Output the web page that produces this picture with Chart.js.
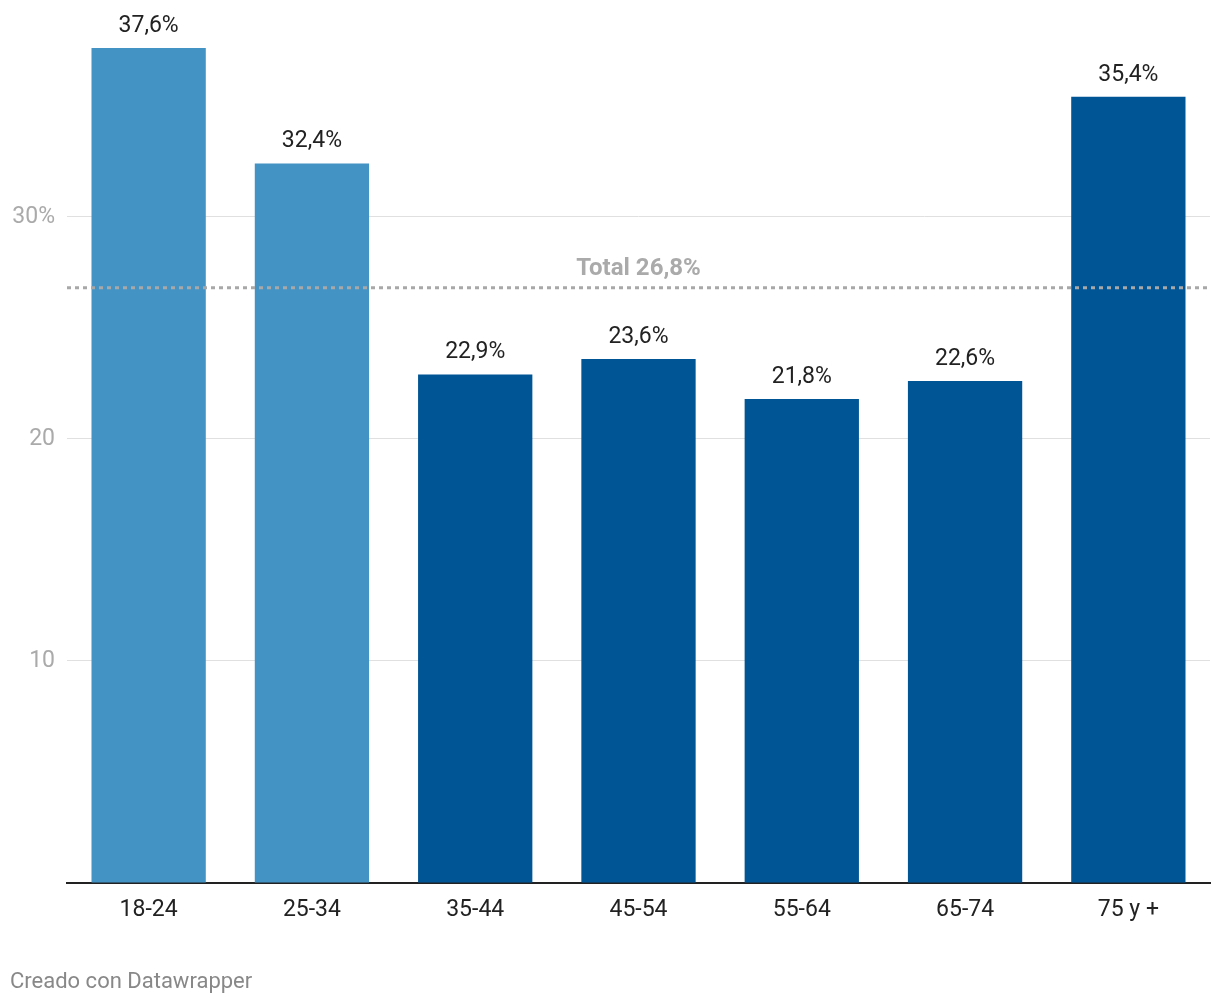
<!DOCTYPE html>
<html>
<head>
<meta charset="utf-8">
<script src="https://cdn.jsdelivr.net/npm/chart.js@4/dist/chart.umd.min.js"></script>
<style>
  html, body { margin: 0; padding: 0; background: #fff; }
  #wrap { position: relative; width: 1220px; height: 1004px; }
  #footer {
    position: absolute; left: 10px; top: 968px;
    font-family: Roboto, sans-serif; font-size: 22px; color: #888;
  }
</style>
</head>
<body>
<div id="wrap">
  <canvas id="chart" width="1220" height="1004"></canvas>
  <div id="footer">Creado con Datawrapper</div>
</div>
<script>
// Datos: porcentaje por grupo de edad
const categories = ['18-24', '25-34', '35-44', '45-54', '55-64', '65-74', '75 y +'];
const values = [37.6, 32.4, 22.9, 23.6, 21.8, 22.6, 35.4];
const barColors = ['#4394c4', '#4394c4', '#005595', '#005595', '#005595', '#005595', '#005595'];
const totalValue = 26.8;
const totalLabel = 'Total 26,8%';

const FONT = 'Roboto, sans-serif';

// Etiquetas de valor encima de cada barra
const valueLabels = {
  id: 'valueLabels',
  afterDatasetsDraw(chart) {
    const ctx = chart.ctx;
    const meta = chart.getDatasetMeta(0);
    ctx.save();
    ctx.font = '23px ' + FONT;
    ctx.fillStyle = '#222';
    ctx.textAlign = 'center';
    ctx.textBaseline = 'middle';
    meta.data.forEach((bar, i) => {
      ctx.fillText(values[i].toFixed(1).replace('.', ',') + '%', bar.x, bar.y - 22);
    });
    ctx.restore();
  }
};

// Línea punteada del total
const totalLine = {
  id: 'totalLine',
  afterDatasetsDraw(chart) {
    const { ctx, chartArea, scales } = chart;
    const y = scales.y.getPixelForValue(totalValue);
    ctx.save();
    ctx.strokeStyle = '#a8a8a8';
    ctx.lineWidth = 3;
    ctx.setLineDash([4, 4]);
    ctx.beginPath();
    ctx.moveTo(chartArea.left, y);
    ctx.lineTo(chartArea.right, y);
    ctx.stroke();
    ctx.setLineDash([]);
    ctx.font = 'bold 24px ' + FONT;
    ctx.fillStyle = '#aaa';
    ctx.textAlign = 'center';
    ctx.textBaseline = 'middle';
    ctx.fillText(totalLabel, (chartArea.left + chartArea.right) / 2, y - 19);
    ctx.restore();
  }
};

new Chart(document.getElementById('chart'), {
  type: 'bar',
  data: {
    labels: categories,
    datasets: [{
      data: values,
      backgroundColor: barColors,
      barPercentage: 0.7,
      categoryPercentage: 1.0,
    }]
  },
  options: {
    responsive: false,
    animation: false,
    layout: { padding: { top: 48, right: 10, left: 0, bottom: 61 } },
    plugins: {
      legend: { display: false },
      tooltip: { enabled: false },
    },
    scales: {
      x: {
        grid: { display: false },
        border: { display: true, color: '#222', width: 2 },
        ticks: { color: '#222', font: { family: FONT, size: 23 }, padding: 5 },
        afterFit(scale) { scale.height = 60; },
      },
      y: {
        min: 0,
        max: 37.6,
        border: { display: false },
        grid: { color: '#e0e0e0', lineWidth: 1, drawTicks: false },
        ticks: {
          stepSize: 10,
          includeBounds: false,
          color: '#aaa',
          padding: 12,
          font: { family: FONT, size: 23 },
          callback: v => v === 0 ? '' : (v === 30 ? '30%' : String(v)),
        },
        afterFit(scale) { scale.width = 67; },
      }
    }
  },
  plugins: [valueLabels, totalLine]
});
</script>
</body>
</html>
